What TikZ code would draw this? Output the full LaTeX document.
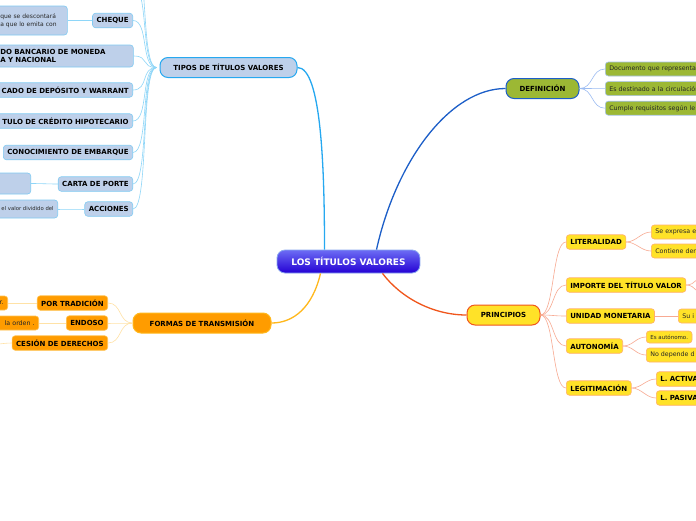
\documentclass[tikz,border=0pt]{standalone}
\usepackage{fontspec}
\setmainfont{DejaVu Sans}
\usetikzlibrary{positioning}
\definecolor{rootTop}{HTML}{6C6CF4}
\definecolor{rootBot}{HTML}{2400D4}
\definecolor{rootLine}{HTML}{8AA8F0}
\definecolor{tiposFill}{HTML}{BED0EA}
\definecolor{tiposLine}{HTML}{26A8F0}
\definecolor{tiposSub}{HTML}{80CAF2}
\definecolor{tiposWire}{HTML}{8ED6F8}
\definecolor{defFill}{HTML}{9CB834}
\definecolor{defLine}{HTML}{1C5EC8}
\definecolor{defSub}{HTML}{A6C2EA}
\definecolor{defWire}{HTML}{9CBCF2}
\definecolor{prinFill}{HTML}{FFE228}
\definecolor{prinLine}{HTML}{F0561C}
\definecolor{prinSub}{HTML}{FFB06C}
\definecolor{prinWire}{HTML}{F8AA92}
\definecolor{formFill}{HTML}{FF9C00}
\definecolor{formLine}{HTML}{FFB81C}
\definecolor{formSub}{HTML}{FFC250}
\definecolor{formWire}{HTML}{FFE2A6}
\definecolor{leafText}{HTML}{262626}

\begin{document}
\begin{tikzpicture}[x=1pt,y=-1pt,
    root/.style={rounded corners=8pt,top color=rootTop,bottom color=rootBot,draw=rootLine,line width=0.8pt,
      text=white,font=\fontsize{9}{10}\selectfont\bfseries,minimum width=143pt,minimum height=23pt},
    branch/.style={rounded corners=8pt,line width=1pt,font=\fontsize{7}{8}\selectfont\bfseries,minimum height=20pt},
    topic/.style={rounded corners=3pt,line width=0.6pt,font=\fontsize{7}{8}\selectfont\bfseries,
      minimum height=14.5pt,inner xsep=4pt,inner ysep=1pt},
    leaf/.style={rounded corners=3pt,line width=0.6pt,font=\fontsize{6.3}{8}\selectfont,text=leafText,
      minimum height=14pt,inner xsep=4pt,inner ysep=1pt},
    cutleft/.style={anchor=east,text width=150pt,align=right},
    cutright/.style={anchor=west,text width=150pt,align=left},
    tiposbox/.style={fill=tiposFill,draw=tiposLine},
    tipossub/.style={fill=tiposFill,draw=tiposSub},
    defbox/.style={fill=defFill,draw=defLine},
    defsub/.style={fill=defFill,draw=defSub},
    prinbox/.style={fill=prinFill,draw=prinLine},
    prinsub/.style={fill=prinFill,draw=prinSub},
    formbox/.style={fill=formFill,draw=formLine},
    formsub/.style={fill=formFill,draw=formSub},
    mmlink/.style={to path={.. controls +(#1,0) and +(-#1,0) .. (\tikztotarget)}},
    wire/.style={line width=0.6pt}]
  \useasboundingbox (0,0) rectangle (696,520);
  \clip (0,0) rectangle (696,520);
  \fill[white] (0,0) rectangle (696,520);

  \node[root] (root) at (348.5,261.5) {LOS TÍTULOS VALORES};
  \node[branch,tiposbox,minimum width=137pt] (tipos) at (228.5,67.5) {TIPOS DE TÍTULOS VALORES};
  \node[branch,defbox,minimum width=73pt] (defin) at (542.5,88.5) {DEFINICIÓN};
  \node[branch,prinbox,minimum width=73pt] (princ) at (503.5,315) {PRINCIPIOS};
  \node[branch,formbox,minimum width=138pt] (formas) at (202,323) {FORMAS DE TRANSMISIÓN};

  \draw[tiposLine,line width=1.3pt] ([xshift=-24pt]root.north) .. controls +(0,-80) and +(24,0) .. (tipos.east);
  \draw[defLine,line width=1.3pt] ([xshift=28pt]root.north) .. controls +(20,-90) and +(-55,0) .. (defin.west);
  \draw[prinLine,line width=1.3pt] ([xshift=34pt]root.south) .. controls +(18,24) and +(-34,0) .. (princ.west);
  \draw[formLine,line width=1.3pt] ([xshift=-28pt]root.south) .. controls +(-8,34) and +(22,0) .. (formas.east);

  \node[topic,tipossub,anchor=east] (cheque) at (133,20.5) {CHEQUE};
  \node[topic,tipossub,anchor=west,text width=127pt,align=left,inner xsep=6pt,minimum height=22pt] (bancario) at (-6,56)
    {DO BANCARIO DE MONEDA\\A Y NACIONAL};
  \node[topic,tipossub,cutleft] (deposito) at (133,90) {CADO DE DEPÓSITO Y WARRANT};
  \node[topic,tipossub,cutleft] (hipotec) at (133,121) {TULO DE CRÉDITO HIPOTECARIO};
  \node[topic,tipossub,anchor=east] (embarque) at (133,152.5) {CONOCIMIENTO DE EMBARQUE};
  \node[topic,tipossub,anchor=east] (carta) at (133,184) {CARTA DE PORTE};
  \node[topic,tipossub,anchor=east] (acciones) at (133,209) {ACCIONES};
  \coordinate (tiposup) at (133,-14);
  \coordinate (tipostop) at (133,-44);
  \node[leaf,tipossub,anchor=west,text width=61pt,align=left,inner xsep=6pt,minimum height=29pt,
    font=\fontsize{6}{8}\selectfont] (chequetxt) at (-6,20.5) {que se descontará\\a que lo emita con};
  \node[leaf,tipossub,anchor=east,minimum width=45pt,minimum height=21pt] (cartatxt) at (31,183.5) {};
  \node[leaf,tipossub,cutleft,text width=80pt,minimum height=18pt,font=\fontsize{5.3}{7}\selectfont] (acctxt) at (58,209)
    {el valor dividido del};

  \foreach \n in {tiposup,tipostop,cheque,bancario,deposito,hipotec,embarque,carta,acciones}
    \draw[tiposWire,wire] ([xshift=-3pt]tipos.west) to[mmlink=-16] (\n.east);
  \draw[tiposWire,wire] (cheque.west) to[mmlink=-10] (chequetxt.east);
  \draw[tiposWire,wire] (carta.west) to[mmlink=-10] (cartatxt.east);
  \draw[tiposWire,wire] (acciones.west) to[mmlink=-10] (acctxt.east);

  \node[leaf,defsub,cutright] (def1) at (605,69) {Documento que representa};
  \node[leaf,defsub,cutright,below=5pt of def1.south west,anchor=north west] (def2) {Es destinado a la circulación};
  \node[leaf,defsub,cutright,below=5pt of def2.south west,anchor=north west] (def3) {Cumple requisitos según le};
  \foreach \n in {def1,def2,def3}
    \draw[defWire,wire] (defin.east) to[mmlink=14] (\n.west);

  \node[topic,prinsub,anchor=west] (literal) at (566,242) {LITERALIDAD};
  \node[topic,prinsub,anchor=west] (importe) at (566,285) {IMPORTE DEL TÍTULO VALOR};
  \node[topic,prinsub,anchor=west] (unidad) at (566,316) {UNIDAD MONETARIA};
  \node[topic,prinsub,anchor=west] (auton) at (566,346) {AUTONOMÍA};
  \node[topic,prinsub,anchor=west] (legit) at (566,388) {LEGITIMACIÓN};
  \foreach \n in {literal,importe,unidad,auton,legit}
    \draw[prinWire,wire] (princ.east) to[mmlink=14] (\n.west);

  \node[leaf,prinsub,cutright] (lit1) at (651,232) {Se expresa e};
  \node[leaf,prinsub,cutright] (lit2) at (651,251) {Contiene der};
  \coordinate (imp1) at (706,276);
  \coordinate (imp2) at (706,295);
  \node[leaf,prinsub,cutright] (unid1) at (678,316) {Su i};
  \node[leaf,prinsub,anchor=west,minimum height=12pt,font=\fontsize{5.5}{7}\selectfont] (aut1) at (646,337) {Es autónomo.};
  \node[leaf,prinsub,cutright] (aut2) at (646,355) {No depende d};
  \node[topic,prinsub,cutright] (leg1) at (656,379) {L. ACTIVA};
  \node[topic,prinsub,cutright] (leg2) at (656,398) {L. PASIVA};
  \draw[prinWire,wire] (literal.east) to[mmlink=10] (lit1.west);
  \draw[prinWire,wire] (literal.east) to[mmlink=10] (lit2.west);
  \draw[prinWire,wire] (importe.east) to[mmlink=10] (imp1);
  \draw[prinWire,wire] (importe.east) to[mmlink=10] (imp2);
  \draw[prinWire,wire] (unidad.east) -- (unid1.west);
  \draw[prinWire,wire] (auton.east) to[mmlink=10] (aut1.west);
  \draw[prinWire,wire] (auton.east) to[mmlink=10] (aut2.west);
  \draw[prinWire,wire] (legit.east) to[mmlink=10] (leg1.west);
  \draw[prinWire,wire] (legit.east) to[mmlink=10] (leg2.west);

  \node[topic,formsub,anchor=east] (portrad) at (108,303) {POR TRADICIÓN};
  \node[topic,formsub,anchor=east] (endoso) at (108,323) {ENDOSO};
  \node[topic,formsub,anchor=east] (cesion) at (108,343) {CESIÓN DE DERECHOS};
  \foreach \n in {portrad,endoso,cesion}
    \draw[formWire,wire] (formas.west) to[mmlink=-14] (\n.east);
  \node[leaf,formsub,cutleft,text=black!85] (portxt) at (8,303) {r.};
  \node[leaf,formsub,cutleft,text=black!85] (endtxt) at (39,323) {la orden .};
  \coordinate (cestxt) at (-14,345);
  \draw[formWire,wire] (portrad.west) -- (portxt.east);
  \draw[formWire,wire] (endoso.west) -- (endtxt.east);
  \draw[formWire,wire] (cesion.west) to[mmlink=-8] (cestxt);
\end{tikzpicture}
\end{document}
